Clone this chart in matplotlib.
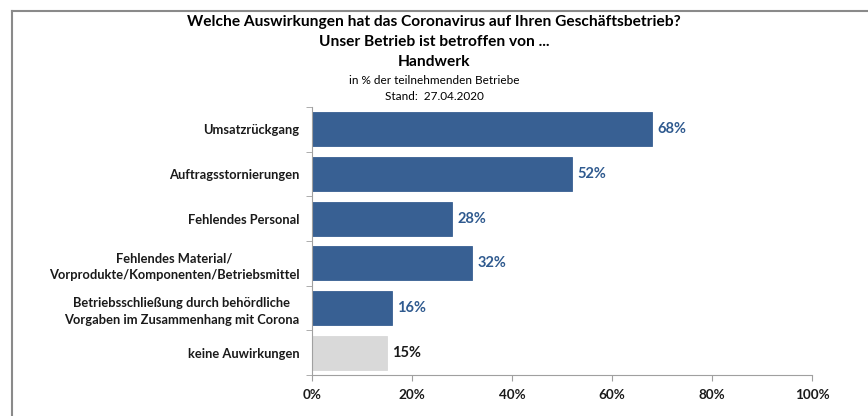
import matplotlib.pyplot as plt
from matplotlib.ticker import FixedLocator

plt.rcParams['font.family'] = ['Lato', 'DejaVu Sans']

categories = [
    'Umsatzrückgang',
    'Auftragsstornierungen',
    'Fehlendes Personal',
    'Fehlendes Material/\nVorprodukte/Komponenten/Betriebsmittel',
    'Betriebsschließung durch behördliche\nVorgaben im Zusammenhang mit Corona',
    'keine Auwirkungen',
]
values = [68, 52, 28, 32, 16, 15]
labels = ['68%', '52%', '28%', '32%', '16%', '15%']
xticks = [0, 20, 40, 60, 80, 100]

blue = '#386093'
grey = '#d9d9d9'
colors = [blue] * 5 + [grey]
text_colors = ['#2f5a8f'] * 5 + ['#1a1a1a']

fig = plt.figure(figsize=(8.68, 4.16), dpi=100)

# frame around the picture
fig.add_artist(plt.Line2D([11.5 / 868, 1], [1 - 10.5 / 416] * 2, color='#8a8a8a', lw=1.5))
fig.add_artist(plt.Line2D([11.5 / 868] * 2, [0, 1 - 10.5 / 416], color='#8a8a8a', lw=1.5))

# titles
fig.text(0.5, 1 - 22 / 416, 'Welche Auswirkungen hat das Coronavirus auf Ihren Geschäftsbetrieb?',
         ha='center', va='center', fontsize=11.2, fontweight='bold')
fig.text(0.5, 1 - 42 / 416, 'Unser Betrieb ist betroffen von ...',
         ha='center', va='center', fontsize=11.2, fontweight='bold')
fig.text(0.5, 1 - 62 / 416, 'Handwerk', ha='center', va='center', fontsize=11.2, fontweight='bold')
fig.text(0.5, 1 - 81 / 416, 'in % der teilnehmenden Betriebe', ha='center', va='center', fontsize=8.5)
fig.text(0.5, 1 - 97 / 416, 'Stand:  27.04.2020', ha='center', va='center', fontsize=8.5)

ax = fig.add_axes([312 / 868, 41 / 416, 500 / 868, 268 / 416])
pos = list(range(len(categories)))
ax.barh(pos, values, height=0.76, color=colors, edgecolor=colors, linewidth=0.6)
for y, v, lab, c in zip(pos, values, labels, text_colors):
    ax.text(v + 1.1, y, lab, va='center', ha='left', fontsize=10.5, fontweight='bold', color=c)

ax.set_ylim(len(categories) - 0.5, -0.5)
ax.set_xlim(0, 100)
ax.set_yticks(pos)
ax.set_yticklabels(categories, fontsize=9.3, fontweight='bold', color='#1a1a1a',
                   linespacing=1.45)
for t in ax.get_yticklabels():
    t.set_multialignment('center')
ax.tick_params(axis='y', which='major', length=0, pad=9)
ax.yaxis.set_minor_locator(FixedLocator([p - 0.5 for p in range(len(categories) + 1)]))
ax.tick_params(axis='y', which='minor', length=4, color='#a0a0a0', direction='out')

ax.set_xticks(xticks)
ax.set_xticklabels([f'{t}%' for t in xticks], fontsize=9.7, fontweight='bold', color='#1a1a1a')
ax.tick_params(axis='x', length=4, color='#a0a0a0', pad=6)

for side in ['top', 'right']:
    ax.spines[side].set_visible(False)
for side in ['left', 'bottom']:
    ax.spines[side].set_color('#a0a0a0')

fig.savefig('out.png', dpi=100)
